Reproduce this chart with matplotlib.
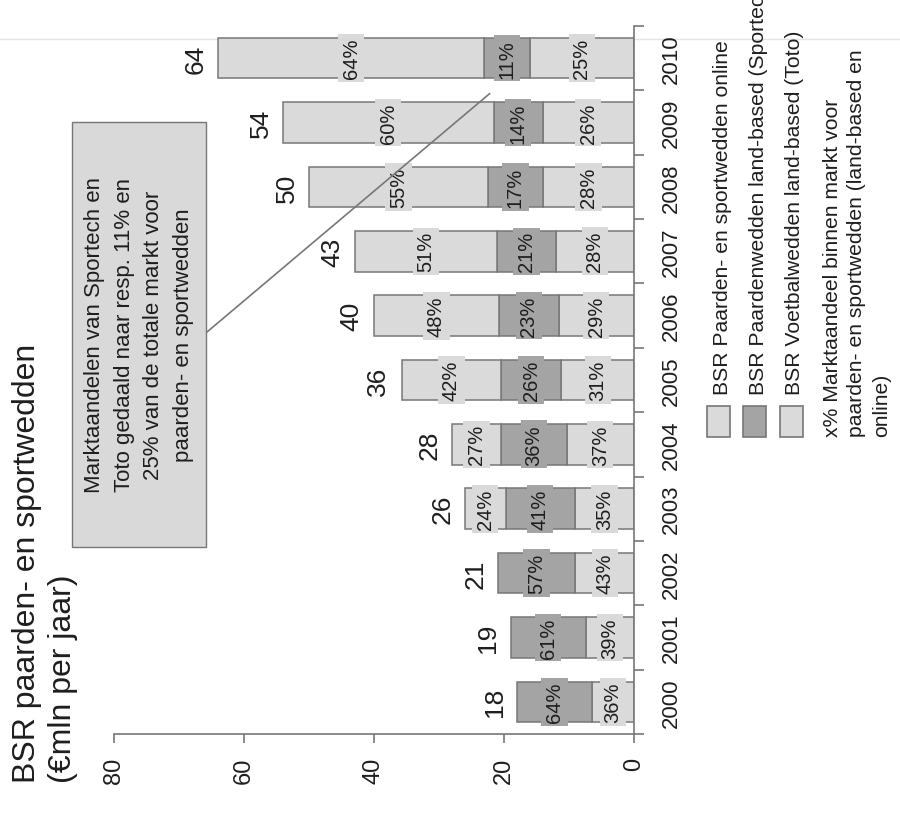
import matplotlib
matplotlib.use("Agg")
import matplotlib.pyplot as plt
from matplotlib.patches import Rectangle
from matplotlib.lines import Line2D
import numpy as np

plt.rcParams['font.family'] = ['Liberation Sans', 'DejaVu Sans']

# data (BSR in mln euro, shares in %)
years = ['2000', '2001', '2002', '2003', '2004', '2005', '2006', '2007', '2008', '2009', '2010']
totals = [18, 19, 21, 26, 28, 36, 40, 43, 50, 54, 64]
pct_toto = [36, 39, 43, 35, 37, 31, 29, 28, 28, 26, 25]
pct_sportech = [64, 61, 57, 41, 36, 26, 23, 21, 17, 14, 11]
pct_online = [0, 0, 0, 24, 27, 42, 48, 51, 55, 60, 64]
value_ticks = [0, 20, 40, 60, 80]

legend_labels = ['BSR Paarden- en sportwedden online',
                 'BSR Paardenwedden land-based (Sportech)',
                 'BSR Voetbalwedden land-based (Toto)']
share_note = 'x% Marktaandeel binnen markt voor\npaarden- en sportwedden (land-based en\nonline)'
callout = ('Marktaandelen van Sportech en\nToto gedaald naar resp. 11% en\n'
           '25% van de totale markt voor\npaarden- en sportwedden')

LIGHT = '#dadada'
DARK = '#a4a4a4'
EDGE = '#777777'
TXT = '#1e1e1e'

W, H = 900, 820
fig = plt.figure(figsize=(W / 100, H / 100), dpi=100)


def fx(px):
    return px / W


def fy(py):
    return 1 - py / H


# faint scan line across the page
fig.add_artist(Line2D([0, 1], [fy(40), fy(40)], color='#e4e4e4', lw=1, zorder=-5))

ax = fig.add_axes([fx(114), fy(735), fx(634) - fx(114), fy(27) - fy(735)])
ax.patch.set_visible(False)

idx = np.arange(len(years))
tot = np.array(totals, dtype=float)
seg_toto = tot * np.array(pct_toto) / 100
seg_sport = tot * np.array(pct_sportech) / 100
seg_online = tot * np.array(pct_online) / 100

bh = 0.63
segments = [(seg_toto, np.zeros(len(years)), LIGHT, pct_toto),
            (seg_sport, seg_toto, DARK, pct_sportech),
            (seg_online, seg_toto + seg_sport, LIGHT, pct_online)]

for seg, left, col, pcts in segments:
    mask = seg > 0
    ax.barh(idx[mask], seg[mask], left=left[mask], height=bh, color=col,
            edgecolor=EDGE, linewidth=1.1, zorder=2)
    for i in idx[mask]:
        ax.text(left[i] + seg[i] / 2, i, f'{pcts[i]}%', rotation=90, ha='center', va='center',
                fontsize=14.5, color=TXT, zorder=4,
                bbox=dict(boxstyle='square,pad=0.18', fc=col, ec='none'))

for i in idx:
    ax.annotate(str(totals[i]), xy=(totals[i], i), xytext=(-16, 0), textcoords='offset points',
                rotation=90, ha='center', va='center', fontsize=19, color=TXT)

ax.set_xlim(80, 0)
ax.set_ylim(-0.5, len(years) - 0.5)

ax.set_xticks(value_ticks)
ax.set_xticklabels([str(v) for v in value_ticks], rotation=90)
ax.tick_params(axis='x', length=6.5, width=1.2, color=EDGE, pad=10, labelsize=17, labelcolor=TXT)

ax.yaxis.tick_right()
ax.set_yticks(idx)
ax.set_yticklabels(years)
ax.set_yticks(np.arange(-0.5, len(years)), minor=True)
ax.tick_params(axis='y', which='major', length=0, pad=19, labelsize=16, labelcolor=TXT)
ax.tick_params(axis='y', which='minor', length=7.5, width=1.2, color=EDGE)
for lbl in ax.get_yticklabels():
    lbl.set_rotation(90)
    lbl.set_va('center')
    lbl.set_ha('left')

for s in ['left', 'top']:
    ax.spines[s].set_visible(False)
for s in ['right', 'bottom']:
    ax.spines[s].set_color(EDGE)
    ax.spines[s].set_linewidth(1.2)

# title
fig.text(fx(27), fy(783), 'BSR paarden- en sportwedden', rotation=90, ha='center', va='bottom',
         fontsize=23, color=TXT)
fig.text(fx(63), fy(783), '(€mln per jaar)', rotation=90, ha='center', va='bottom',
         fontsize=23, color=TXT)

# callout box
fig.add_artist(Rectangle((fx(72), fy(548)), fx(206) - fx(72), fy(123) - fy(548),
                         transform=fig.transFigure, fc='#d9d9d9', ec=EDGE, lw=1, zorder=3))
fig.text(fx(139), fy(335), callout, rotation=90, ha='center', va='center', multialignment='center',
         fontsize=16, color=TXT, linespacing=1.55, zorder=4)
ax.annotate('', xy=(22.2, 9.45), xycoords='data', xytext=(fx(207), fy(333)),
            textcoords='figure fraction',
            arrowprops=dict(arrowstyle='-', color=EDGE, lw=1.2, shrinkA=0, shrinkB=0), zorder=6)

# legend
leg_x = [707, 743, 780]
leg_cols = [LIGHT, DARK, LIGHT]
for x0, col, lab in zip(leg_x, leg_cols, legend_labels):
    fig.add_artist(Rectangle((fx(x0), fy(438)), 23 / W, 31 / H, transform=fig.transFigure,
                             fc=col, ec=EDGE, lw=1.2))
    fig.text(fx(x0 + 15), fy(395), lab, rotation=90, ha='center', va='bottom',
             fontsize=15.2, color=TXT)
fig.text(fx(857), fy(437), share_note, rotation=90, ha='center', va='bottom',
         multialignment='left', fontsize=15.2, color=TXT, linespacing=1.35)

fig.savefig('out.png', dpi=100)
